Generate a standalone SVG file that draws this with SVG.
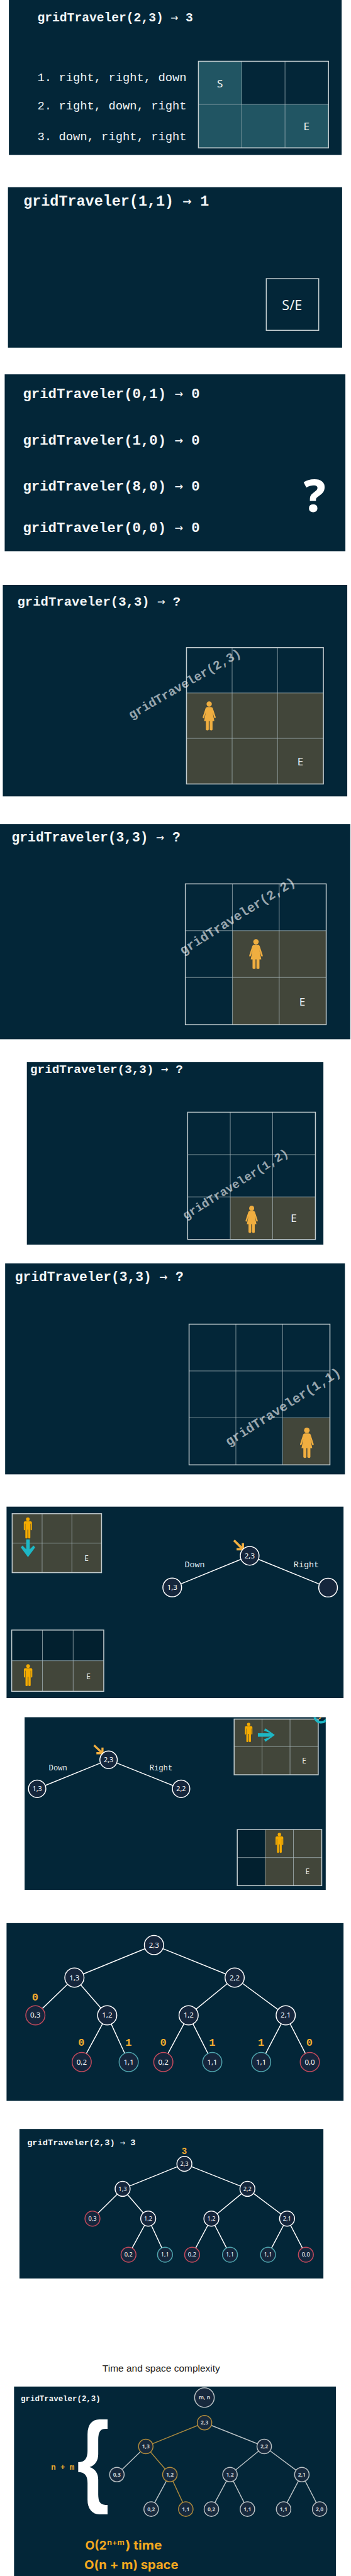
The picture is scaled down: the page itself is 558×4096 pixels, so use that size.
<svg xmlns="http://www.w3.org/2000/svg" xmlns:xlink="http://www.w3.org/1999/xlink" width="558" height="4096" viewBox="0 0 558 4096">
<style>
.p{fill:#032638}
.t{font-family:"Liberation Mono",monospace;font-weight:700;fill:#f4f7f7}
.a{font-family:"DejaVu Sans Mono",monospace;font-weight:400}
.r{font-family:"Liberation Mono",monospace;fill:#eef2f3}
.rot{font-family:"Liberation Mono",monospace;font-weight:700;fill:#fff;fill-opacity:.6}
.gl{font-family:"Noto Sans",sans-serif;fill:#eef2f3;text-anchor:middle}
.g0{fill:none;stroke:#c3cdd0;stroke-width:2}
.g1{fill:none;stroke:#a9b7bb;stroke-width:1}
.ol{fill:#42463a}
.te{fill:#215563}
.dk{fill:#02202f}
.e{stroke:#fff;stroke-width:2}
.eg{stroke:#b9c1c4;stroke-width:2}
.eo{stroke:#a8883e;stroke-width:2}
.n{fill:#15263c;stroke:#fff;stroke-width:2}
.nr{fill:#15263c;stroke:#c34a5c;stroke-width:2}
.nt{fill:#15263c;stroke:#4fa5ae;stroke-width:2}
.ng{fill:#17293d;stroke:#b9c1c4;stroke-width:2}
.no{fill:#17293d;stroke:#b08c3c;stroke-width:2}
.nl{font-family:"Noto Sans",sans-serif;fill:#fff;text-anchor:middle}
.ngl{font-family:"Noto Sans",sans-serif;font-weight:700;fill:#c9d0d3;text-anchor:middle;font-size:11.5px}
.o{font-family:"Liberation Mono",monospace;font-weight:700;fill:#efab2f;text-anchor:middle}
.lb{font-family:"Liberation Mono",monospace;fill:#e8eded;text-anchor:middle}
.big{font-family:"Inter",sans-serif;font-weight:700;fill:#f5a91f;font-size:26px}
.sup{font-family:"Inter",sans-serif;font-weight:700;fill:#f5a91f;font-size:15px}
.woman{fill:#f0ae40}
.man{fill:#f5ab00}
.cy{fill:#1db7c5}
</style>
<defs>
<g id="woman"><circle cx="0" cy="5.9" r="5.9"/><path d="M-4,12.5 L4,12.5 Q7,12.5 8,15 L14.5,35 Q15,38 13,38 Q11.5,38 11,36 L7.5,24 L11.5,44 L7.5,44 L7.5,63 Q7.5,65 5,65 Q1,65 1,63 L1,44 L-1,44 L-1,63 Q-1,65 -4,65 Q-7.5,65 -7.5,63 L-7.5,44 L-11.5,44 L-7.5,24 L-11,36 Q-11.5,38 -13,38 Q-15,38 -14.5,35 L-8,15 Q-7,12.5 -4,12.5 Z"/></g>
<g id="man"><circle cx="0" cy="4" r="4"/><path d="M-6,8.5 L6,8.5 Q9,8.5 9,11 L9,27 Q9,28.5 7.7,28.5 Q6.2,28.5 6.2,27 L6.2,14 L5.5,14 L5.5,45 Q5.5,46.7 3.3,46.7 Q0.7,46.7 0.7,45 L0.7,27 L-0.7,27 L-0.7,45 Q-0.7,46.7 -3.3,46.7 Q-5.5,46.7 -5.5,45 L-5.5,14 L-6.2,14 L-6.2,27 Q-6.2,28.5 -7.7,28.5 Q-9,28.5 -9,27 L-9,11 Q-9,8.5 -6,8.5 Z"/></g>
<clipPath id="c9"><rect x="53" y="3670" width="643" height="369"/></clipPath>
</defs>
<rect width="558" height="4096" fill="#fff"/>
<g transform="scale(0.744)">
<g id="panels">
<rect class="p" x="19" y="0" width="711" height="331"/>
<rect class="p" x="17" y="400" width="714" height="343"/>
<rect class="p" x="10" y="800" width="728" height="378"/>
<rect class="p" x="6" y="1250" width="736" height="452"/>
<rect class="p" x="0" y="1761" width="748.5" height="460"/>
<rect class="p" x="57.4" y="2270" width="633.6" height="390"/>
<rect class="p" x="11" y="2700" width="726" height="451"/>
<rect class="p" x="14" y="3220" width="720" height="409"/>
<rect class="p" x="52.6" y="3670" width="643.4" height="369"/>
<rect class="p" x="14" y="4110" width="720" height="380"/>
<rect class="p" x="41.6" y="4550" width="649.4" height="319.5"/>
<rect class="p" x="30" y="5100.5" width="687.7" height="405.5"/>
</g>
<g id="panel1">
<text class="t" x="80" y="46" font-size="26.4">gridTraveler(2,3) <tspan class="a">→</tspan> 3</text>
<text class="r" x="80" y="173" font-size="25.3">1. right, right, down</text>
<text class="r" x="80" y="234" font-size="25.3">2. right, down, right</text>
<text class="r" x="80" y="299.5" font-size="25.3">3. down, right, right</text>
<rect class="te" x="424" y="131" width="92.6" height="92"/><rect class="te" x="424" y="223" width="278" height="93"/>
<path class="g1" d="M516.6,131V316M609,131V316M424,223H702"/><rect class="g0" x="424" y="131" width="278" height="185"/>
<text class="gl" x="470" y="186.6" font-size="23">S</text><text class="gl" x="655" y="278.6" font-size="23">E</text>
</g>
<g id="panel2">
<text class="t" x="50" y="440" font-size="31.5">gridTraveler(1,1) <tspan class="a">→</tspan> 1</text>
<rect class="g0" x="569" y="595.5" width="112" height="110.5"/>
<text class="gl" x="624" y="663" font-size="29">S/E</text>
</g>
<g id="panel3">
<text class="t" x="49" y="850.6" font-size="30">gridTraveler(0,1) <tspan class="a">→</tspan> 0</text>
<text class="t" x="49" y="950" font-size="30">gridTraveler(1,0) <tspan class="a">→</tspan> 0</text>
<text class="t" x="49" y="1049" font-size="30">gridTraveler(8,0) <tspan class="a">→</tspan> 0</text>
<text class="t" x="49" y="1137.6" font-size="30">gridTraveler(0,0) <tspan class="a">→</tspan> 0</text>
<text x="672" y="1094.6" font-size="96" font-family="Noto Sans,sans-serif" font-weight="800" fill="#fff" text-anchor="middle">?</text>
</g>
<g id="panel4">
<text class="t" x="37" y="1295" font-size="27.7">gridTraveler(3,3) <tspan class="a">→</tspan> ?</text>
<rect class="ol" x="398.5" y="1481" width="292.5" height="194.5"/>
<path class="g1" d="M496,1384V1675.5M593,1384V1675.5M398.5,1481H691M398.5,1578H691"/><rect class="g0" x="398.5" y="1384" width="292.5" height="291.5"/>
<use href="#woman" class="woman" transform="translate(447,1499) scale(.955)"/>
<text class="gl" x="642" y="1636" font-size="23">E</text>
<text class="rot" transform="translate(281,1537) rotate(-30)" font-size="26.7">gridTraveler(2,3)</text>
</g>
<g id="panel5">
<text class="t" x="25" y="1798" font-size="28.6">gridTraveler(3,3) <tspan class="a">→</tspan> ?</text>
<rect class="ol" x="496.5" y="1989" width="200.5" height="201"/>
<path class="g1" d="M496.5,1889V2190M596.6,1889V2190M396,1989H697M396,2089H697"/><rect class="g0" x="396" y="1889" width="301" height="301"/>
<use href="#woman" class="woman" transform="translate(547,2007) scale(.985)"/>
<text class="gl" x="646" y="2149" font-size="23">E</text>
<text class="rot" transform="translate(391,2041) rotate(-32)" font-size="28">gridTraveler(2,2)</text>
</g>
<g id="panel6">
<text class="t" x="64.6" y="2293" font-size="25.9">gridTraveler(3,3) <tspan class="a">→</tspan> ?</text>
<rect class="ol" x="492" y="2558" width="182" height="91"/>
<path class="g1" d="M492,2377V2649M582.7,2377V2649M401,2467.7H674M401,2558H674"/><rect class="g0" x="401" y="2377" width="273" height="272"/>
<use href="#woman" class="woman" transform="translate(537.7,2577) scale(.892)"/>
<text class="gl" x="627.7" y="2612" font-size="23">E</text>
<text class="rot" transform="translate(397,2607) rotate(-32)" font-size="25.6">gridTraveler(1,2)</text>
</g>
<g id="panel7">
<text class="t" x="32" y="2738" font-size="28.6">gridTraveler(3,3) <tspan class="a">→</tspan> ?</text>
<rect class="ol" x="604" y="3030" width="101" height="100.7"/>
<path class="g1" d="M504,2830V3130.7M604,2830V3130.7M404,2930H705M404,3030H705"/><rect class="g0" x="404" y="2830" width="301" height="300.7"/>
<use href="#woman" class="woman" transform="translate(655.7,3051)"/>
<text class="rot" transform="translate(489,3091) rotate(-32.5)" font-size="28">gridTraveler(1,1)</text>
</g>
<g id="panel8-grids">
<rect class="ol" x="26" y="3235" width="191" height="126"/>
<path class="g1" d="M90,3235V3361M153.6,3235V3361M26,3298H217"/><rect class="g0" x="26" y="3235" width="191" height="126"/>
<use href="#man" class="man" transform="translate(59.5,3243) scale(.964)"/>
<path class="cy" d="M56,3290H63.6V3311L71.6,3303L75.1,3307L59.8,3328L44.5,3307L48,3303L56,3311Z"/>
<text class="gl" x="185" y="3336" font-size="16">E</text>
<rect class="dk" x="25" y="3483.7" width="196.7" height="65.6"/><rect class="ol" x="25" y="3549.3" width="196.7" height="65.4"/>
<path class="g1" d="M90.7,3483.7V3614.7M156.3,3483.7V3614.7M25,3549.3H221.7"/><rect class="g0" x="25" y="3483.7" width="196.7" height="131"/>
<use href="#man" class="man" transform="translate(60,3556.7)"/>
<text class="gl" x="189" y="3588.7" font-size="16">E</text>
<text class="lb" x="416" y="3350" font-size="18">Down</text><text class="lb" x="654.5" y="3350" font-size="18">Right</text>
<path fill="none" stroke="#f0ae40" stroke-width="5" d="M500,3292L519,3311M505.5,3311H519V3298"/>
</g>
<g id="panel9-grids">
<rect class="ol" x="500.3" y="3674" width="179.7" height="119"/>
<path class="g1" d="M560,3674V3793M619.7,3674V3793M500.3,3733H680"/><rect class="g0" x="500.3" y="3674" width="179.7" height="119"/>
<use href="#man" class="man" transform="translate(531.3,3681.7) scale(.89)"/>
<path class="cy" d="M551,3704.3H578L564,3698.3L567.3,3694L587.3,3708L567.3,3722.3L564,3717.3L578,3711.7H551Z"/>
<text class="gl" x="650" y="3769" font-size="16">E</text>
<g clip-path="url(#c9)"><circle cx="686" cy="3667" r="14" fill="none" stroke="#1db7c5" stroke-width="5"/><path d="M682,3674L686,3670" stroke="#f0ae40" stroke-width="2.5"/></g>
<rect class="dk" x="507" y="3910" width="59.5" height="120"/><rect class="ol" x="566.5" y="3910" width="121" height="120"/>
<path class="g1" d="M566.5,3910V4030M627,3910V4030M507,3970H687.5"/><rect class="g0" x="507" y="3910" width="180.5" height="120"/>
<use href="#man" class="man" transform="translate(597,3917) scale(.92)"/>
<text class="gl" x="657" y="4006" font-size="16">E</text>
<text class="lb" x="124" y="3784" font-size="16.4">Down</text><text class="lb" x="344" y="3784" font-size="16.4">Right</text>
<path fill="none" stroke="#f0ae40" stroke-width="4.5" d="M201,3730L219,3747M206,3747H219V3735"/>
</g>
<g id="connectors">
<path class="e" d="M533.5,3325L368,3392.7M533.5,3325L701,3393"/>
<path class="e" d="M232,3761L79.4,3823M232,3761L387,3823"/>
<path class="e" d="M329,4157L159,4226.5M329,4157L501.4,4226.5M159,4226.5L75.6,4307M159,4226.5L229,4307M501.4,4226.5L403,4307M501.4,4226.5L610.5,4307M229,4307L174.6,4407M229,4307L275,4407M403,4307L349,4407M403,4307L453.6,4407M610.5,4307L558,4407M610.5,4307L662,4407"/>
<path class="e" stroke-width="1.6" d="M394,4624.5L262,4678M394,4624.5L528.7,4678M262,4678L197.6,4741.6M262,4678L316.7,4741.6M528.7,4678L451.7,4741.6M528.7,4678L613.4,4741.6M316.7,4741.6L274.6,4818.6M316.7,4741.6L352.6,4818.6M451.7,4741.6L410.5,4818.6M451.7,4741.6L491.4,4818.6M613.4,4741.6L572.7,4818.6M613.4,4741.6L653.6,4818.6"/>
<path class="eg" d="M437,5177.7L564.6,5228.5M311.5,5228.5L249.8,5288.6M564.6,5228.5L491.4,5288.6M564.6,5228.5L645,5288.6M363,5288.6L323,5362.4M491.4,5288.6L451.7,5362.4M491.4,5288.6L528.7,5362.4M645,5288.6L606,5362.4M645,5288.6L683,5362.4"/>
<path class="eo" d="M437,5177.7L311.5,5228.5M311.5,5228.5L363,5288.6M363,5288.6L397,5362.4"/>
</g>
<g id="n8-23"><circle class="n" cx="533.5" cy="3325" r="20"/><text class="nl" x="533.5" y="3330.5" font-size="15.5">2,3</text></g>
<g id="n8-13"><circle class="n" cx="368" cy="3392.7" r="20"/><text class="nl" x="368" y="3398.2" font-size="15.5">1,3</text></g>
<g id="n8-x"><circle class="n" cx="701" cy="3393" r="20"/></g>
<g id="n9-23"><circle class="n" cx="232" cy="3761" r="18.6"/><text class="nl" x="232" y="3766" font-size="14.5">2,3</text></g>
<g id="n9-13"><circle class="n" cx="79.4" cy="3823" r="18.6"/><text class="nl" x="79.4" y="3828" font-size="14.5">1,3</text></g>
<g id="n9-22"><circle class="n" cx="387" cy="3823" r="18.6"/><text class="nl" x="387" y="3828" font-size="14.5">2,2</text></g>
<g id="tree10">
<g id="n10-a"><circle class="n" cx="329" cy="4157" r="20.5"/><text class="nl" x="329" y="4162.5" font-size="15.5">2,3</text></g>
<g id="n10-b"><circle class="n" cx="159" cy="4226.5" r="20.5"/><text class="nl" x="159" y="4232" font-size="15.5">1,3</text></g>
<g id="n10-c"><circle class="n" cx="501.4" cy="4226.5" r="20.5"/><text class="nl" x="501.4" y="4232" font-size="15.5">2,2</text></g>
<g id="n10-d"><circle class="nr" cx="75.6" cy="4307" r="20.5"/><text class="nl" x="75.6" y="4312.5" font-size="15.5">0,3</text></g>
<g id="n10-e"><circle class="n" cx="229" cy="4307" r="20.5"/><text class="nl" x="229" y="4312.5" font-size="15.5">1,2</text></g>
<g id="n10-f"><circle class="n" cx="403" cy="4307" r="20.5"/><text class="nl" x="403" y="4312.5" font-size="15.5">1,2</text></g>
<g id="n10-g"><circle class="n" cx="610.5" cy="4307" r="20.5"/><text class="nl" x="610.5" y="4312.5" font-size="15.5">2,1</text></g>
<g id="n10-h"><circle class="nr" cx="174.6" cy="4407" r="20.5"/><text class="nl" x="174.6" y="4412.5" font-size="15.5">0,2</text></g>
<g id="n10-i"><circle class="nt" cx="275" cy="4407" r="20.5"/><text class="nl" x="275" y="4412.5" font-size="15.5">1,1</text></g>
<g id="n10-j"><circle class="nr" cx="349" cy="4407" r="20.5"/><text class="nl" x="349" y="4412.5" font-size="15.5">0,2</text></g>
<g id="n10-k"><circle class="nt" cx="453.6" cy="4407" r="20.5"/><text class="nl" x="453.6" y="4412.5" font-size="15.5">1,1</text></g>
<g id="n10-l"><circle class="nt" cx="558" cy="4407" r="20.5"/><text class="nl" x="558" y="4412.5" font-size="15.5">1,1</text></g>
<g id="n10-m"><circle class="nr" cx="662" cy="4407" r="20.5"/><text class="nl" x="662" y="4412.5" font-size="15.5">0,0</text></g>
<text class="o" x="75" y="4275" font-size="23">0</text><text class="o" x="174" y="4372.6" font-size="23">0</text><text class="o" x="274.6" y="4372.6" font-size="23">1</text><text class="o" x="349" y="4372.6" font-size="23">0</text><text class="o" x="453.6" y="4372.6" font-size="23">1</text><text class="o" x="558" y="4372.6" font-size="23">1</text><text class="o" x="661" y="4372.6" font-size="23">0</text>
</g>
<g id="tree11">
<text class="t" x="58" y="4585" font-size="18.4">gridTraveler(2,3) <tspan class="a">→</tspan> 3</text>
<text class="o" x="393.8" y="4603" font-size="19">3</text>
<g id="n11-a"><circle class="n" cx="394" cy="4624.5" r="16"/><text class="nl" x="394" y="4629" font-size="12.5">2,3</text></g>
<g id="n11-b"><circle class="n" cx="262" cy="4678" r="16"/><text class="nl" x="262" y="4682.5" font-size="12.5">1,3</text></g>
<g id="n11-c"><circle class="n" cx="528.7" cy="4678" r="16"/><text class="nl" x="528.7" y="4682.5" font-size="12.5">2,2</text></g>
<g id="n11-d"><circle class="nr" cx="197.6" cy="4741.6" r="16"/><text class="nl" x="197.6" y="4746.1" font-size="12.5">0,3</text></g>
<g id="n11-e"><circle class="n" cx="316.7" cy="4741.6" r="16"/><text class="nl" x="316.7" y="4746.1" font-size="12.5">1,2</text></g>
<g id="n11-f"><circle class="n" cx="451.7" cy="4741.6" r="16"/><text class="nl" x="451.7" y="4746.1" font-size="12.5">1,2</text></g>
<g id="n11-g"><circle class="n" cx="613.4" cy="4741.6" r="16"/><text class="nl" x="613.4" y="4746.1" font-size="12.5">2,1</text></g>
<g id="n11-h"><circle class="nr" cx="274.6" cy="4818.6" r="16"/><text class="nl" x="274.6" y="4823.1" font-size="12.5">0,2</text></g>
<g id="n11-i"><circle class="nt" cx="352.6" cy="4818.6" r="16"/><text class="nl" x="352.6" y="4823.1" font-size="12.5">1,1</text></g>
<g id="n11-j"><circle class="nr" cx="410.5" cy="4818.6" r="16"/><text class="nl" x="410.5" y="4823.1" font-size="12.5">0,2</text></g>
<g id="n11-k"><circle class="nt" cx="491.4" cy="4818.6" r="16"/><text class="nl" x="491.4" y="4823.1" font-size="12.5">1,1</text></g>
<g id="n11-l"><circle class="nt" cx="572.7" cy="4818.6" r="16"/><text class="nl" x="572.7" y="4823.1" font-size="12.5">1,1</text></g>
<g id="n11-m"><circle class="nr" cx="653.6" cy="4818.6" r="16"/><text class="nl" x="653.6" y="4823.1" font-size="12.5">0,0</text></g>
</g>
<text x="344.5" y="5068" font-size="20.8" font-family="Liberation Sans,sans-serif" fill="#222" text-anchor="middle">Time and space complexity</text>
<g id="tree12">
<text class="t" x="44.5" y="5132" font-size="16.7">gridTraveler(2,3)</text>
<text transform="translate(199,5328) scale(.82,1)" font-size="217" font-family="Liberation Sans,sans-serif" font-weight="700" fill="#fff" text-anchor="middle">{</text>
<text class="o" x="134" y="5278" font-size="16.6">n + m</text>
<g id="n12-mn"><circle class="ng" cx="436.8" cy="5124" r="21"/><text class="ngl" x="436.8" y="5128">m, n</text></g>
<g id="n12-a"><circle class="no" cx="437" cy="5177.7" r="15.5"/><text class="ngl" x="437" y="5181.7">2,3</text></g>
<g id="n12-b"><circle class="no" cx="311.5" cy="5228.5" r="15.5"/><text class="ngl" x="311.5" y="5232.5">1,3</text></g>
<g id="n12-c"><circle class="ng" cx="564.6" cy="5228.5" r="15.5"/><text class="ngl" x="564.6" y="5232.5">2,2</text></g>
<g id="n12-d"><circle class="ng" cx="249.8" cy="5288.6" r="15.5"/><text class="ngl" x="249.8" y="5292.6">0,3</text></g>
<g id="n12-e"><circle class="no" cx="363" cy="5288.6" r="15.5"/><text class="ngl" x="363" y="5292.6">1,2</text></g>
<g id="n12-f"><circle class="ng" cx="491.4" cy="5288.6" r="15.5"/><text class="ngl" x="491.4" y="5292.6">1,2</text></g>
<g id="n12-g"><circle class="ng" cx="645" cy="5288.6" r="15.5"/><text class="ngl" x="645" y="5292.6">2,1</text></g>
<g id="n12-h"><circle class="ng" cx="323" cy="5362.4" r="15.5"/><text class="ngl" x="323" y="5366.4">0,2</text></g>
<g id="n12-i"><circle class="no" cx="397" cy="5362.4" r="15.5"/><text class="ngl" x="397" y="5366.4">1,1</text></g>
<g id="n12-j"><circle class="ng" cx="451.7" cy="5362.4" r="15.5"/><text class="ngl" x="451.7" y="5366.4">0,2</text></g>
<g id="n12-k"><circle class="ng" cx="528.7" cy="5362.4" r="15.5"/><text class="ngl" x="528.7" y="5366.4">1,1</text></g>
<g id="n12-l"><circle class="ng" cx="606" cy="5362.4" r="15.5"/><text class="ngl" x="606" y="5366.4">1,1</text></g>
<g id="n12-m"><circle class="ng" cx="683" cy="5362.4" r="15.5"/><text class="ngl" x="683" y="5366.4">2,0</text></g>
<text class="big" x="182" y="5449" textLength="46" lengthAdjust="spacingAndGlyphs">O(2</text>
<text class="sup" x="229" y="5439" textLength="37" lengthAdjust="spacingAndGlyphs">n+m</text>
<text class="big" x="268" y="5449" textLength="78" lengthAdjust="spacingAndGlyphs">) time</text>
<text class="big" x="180" y="5490" textLength="201" lengthAdjust="spacingAndGlyphs">O(n + m) space</text>
</g>
</g>
</svg>
